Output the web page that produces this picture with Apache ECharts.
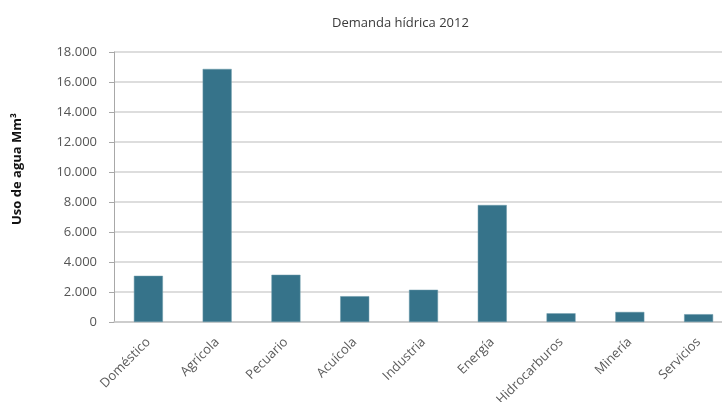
<!DOCTYPE html>
<html>
<head>
<meta charset="utf-8">
<script src="https://cdn.jsdelivr.net/npm/echarts@6/dist/echarts.min.js"></script>
<style>html,body{margin:0;padding:0;background:#fff;}#c{width:722px;height:402px;}</style>
</head>
<body>
<div id="c"></div>
<script>
var titleText = 'Demanda hídrica 2012';
var yAxisTitle = 'Uso de agua Mm³';
var categories = ['Doméstico', 'Agrícola', 'Pecuario', 'Acuícola', 'Industria', 'Energía', 'Hidrocarburos', 'Minería', 'Servicios'];
var values = [3080, 16870, 3150, 1720, 2150, 7800, 580, 670, 520];
var yMin = 0, yMax = 18000, yStep = 2000;

function fmt(v) {
  return String(v).replace(/\B(?=(\d{3})+(?!\d))/g, '.');
}

var chart = echarts.init(document.getElementById('c'), null, {renderer: 'canvas'});
chart.setOption({
  animation: false,
  backgroundColor: '#fff',
  title: {
    text: titleText,
    left: 327, top: 12,
    textStyle: {fontFamily: 'Open Sans', fontSize: 13, fontWeight: 'normal', color: '#3a3a3a'}
  },
  graphic: [{
    type: 'text',
    x: 17, y: 169,
    rotation: Math.PI / 2,
    style: {
      text: yAxisTitle,
      textAlign: 'center',
      textVerticalAlign: 'middle',
      font: 'bold 13px "Open Sans"',
      fill: '#111'
    }
  }],
  grid: {left: 114, width: 619, top: 52, height: 270, containLabel: false, outerBoundsMode: 'none'},
  xAxis: {
    type: 'category',
    data: categories,
    axisLine: {show: true, lineStyle: {color: '#c8c8c8', width: 1.5}},
    axisTick: {show: false},
    axisLabel: {
      rotate: 45,
      interval: 0,
      margin: 18,
      fontFamily: 'Open Sans',
      fontSize: 13,
      color: '#5a5a5a'
    }
  },
  yAxis: {
    type: 'value',
    min: yMin, max: yMax, interval: yStep,
    axisLine: {show: true, lineStyle: {color: '#a8a8a8', width: 1}},
    axisTick: {show: true, length: 5, lineStyle: {color: '#a8a8a8'}},
    splitLine: {show: true, lineStyle: {color: '#d2d2d2', width: 1.5}},
    axisLabel: {
      formatter: fmt,
      margin: 17,
      fontFamily: 'Open Sans',
      fontSize: 13,
      color: '#555'
    }
  },
  series: [{
    type: 'bar',
    data: values,
    barWidth: 29,
    itemStyle: {color: '#36738a', borderColor: '#6d9aab', borderWidth: 0.5}
  }]
});
</script>
</body>
</html>
